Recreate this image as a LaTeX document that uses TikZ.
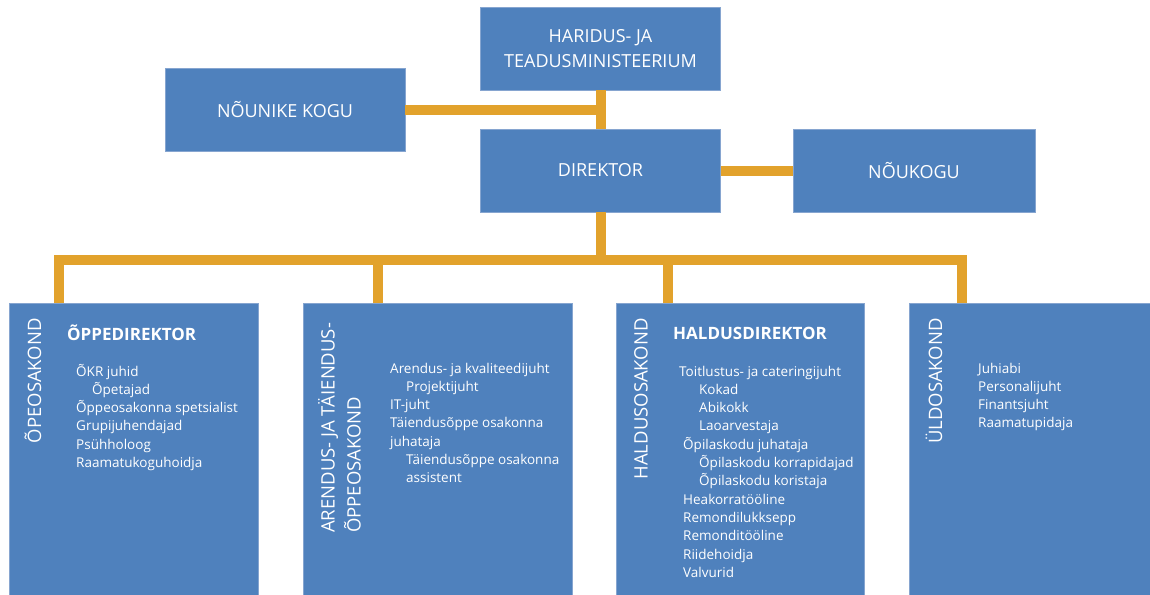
\documentclass[tikz,border=0pt]{standalone}
\usepackage{fontspec}
\setmainfont{Open Sans}
\definecolor{boxblue}{HTML}{4F81BD}
\definecolor{boxedge}{HTML}{86A5D0}
\definecolor{linkor}{HTML}{E2A22C}
\begin{document}
\begin{tikzpicture}[x=1pt,y=-1pt,
  box/.style={fill=boxblue, draw=boxedge, line width=0.6pt},
  topbox/.style={box, minimum width=240pt, minimum height=83pt, inner sep=0pt, text=white,
    font=\fontsize{18}{24.3}\selectfont, align=center},
  deptbox/.style={box, anchor=north west, inner sep=0pt, minimum height=300pt},
  conn/.style={draw=linkor, line width=10pt, line join=miter},
  vlabel/.style={rotate=90, text=white, font=\fontsize{18.5}{26}\selectfont, inner sep=0pt},
  head/.style={text=white, font=\bfseries\fontsize{17}{20}\selectfont, inner sep=0pt, anchor=base west},
  list/.style={text=white, font=\fontsize{13.5}{18.3}\selectfont, inner sep=0pt, align=left, anchor=base west}]
\useasboundingbox (0,0) rectangle (1150,594);
\clip (0,0) rectangle (1150,594);

% top level
\node[topbox] (htm) at (600.5,48.5) {HARIDUS- JA\\TEADUSMINISTEERIUM};
\node[topbox] (nk) at (285,109.5) {NÕUNIKE KOGU};
\node[topbox] (dir) at (600.5,170.5) {DIREKTOR};
\node[topbox, minimum width=242pt] (nkg) at (914,170.5) {NÕUKOGU};

% departments
\node[deptbox, minimum width=249pt] (d1) at (9,303) {};
\node[deptbox, minimum width=269pt] (d2) at (303,303) {};
\node[deptbox, minimum width=248pt] (d3) at (616,303) {};
\node[deptbox, minimum width=260pt] (d4) at (909,303) {};

% connectors
\coordinate (bus) at (600.5,260);
\coordinate (t1) at (59,303);
\coordinate (t2) at (378,303);
\coordinate (t3) at (668,303);
\coordinate (t4) at (962,303);
\draw[conn] (htm.south) -- (dir.north);
\draw[conn] (nk.east) -- (nk.east -| dir.north);
\draw[conn] (dir.east) -- (nkg.west);
\draw[conn] (dir.south) -- (bus);
\draw[conn] (t1) -- (t1 |- bus) -- (t4 |- bus) -- (t4);
\draw[conn] (t2) -- (t2 |- bus);
\draw[conn] (t3) -- (t3 |- bus);

% vertical labels
\node[vlabel, anchor=east] (l1) at (33,318) {ÕPEOSAKOND};
\node[vlabel, anchor=north west, align=left] (l2) at (318,533) {ARENDUS- JA TÄIENDUS-\\ÕPPEOSAKOND};
\node[vlabel, anchor=east] (l3) at (641,318) {HALDUSOSAKOND};
\node[vlabel, anchor=east] (l4) at (934,318) {ÜLDOSAKOND};

% headings
\node[head] (h1) at (67,340) {ÕPPEDIREKTOR};
\node[head] (h3) at (673,339) {HALDUSDIREKTOR};

% lists (anchored at the baseline of the last line)
\node[list] (s1) at (76,467.5) {ÕKR juhid\\\hspace*{16pt}Õpetajad\\Õppeosakonna spetsialist\\Grupijuhendajad\\Psühholoog\\Raamatukoguhoidja};
\node[list] (s2) at (390,482.8) {Arendus- ja kvaliteedijuht\\\hspace*{16pt}Projektijuht\\IT-juht\\Täiendusõppe osakonna\\juhataja\\\hspace*{16pt}Täiendusõppe osakonna\\\hspace*{16pt}assistent};
\node[list] (s3) at (683,577.3) {\hspace*{-4pt}Toitlustus- ja cateringijuht\\\hspace*{16pt}Kokad\\\hspace*{16pt}Abikokk\\\hspace*{16pt}Laoarvestaja\\Õpilaskodu juhataja\\\hspace*{16pt}Õpilaskodu korrapidajad\\\hspace*{16pt}Õpilaskodu koristaja\\Heakorratööline\\Remondilukksepp\\Remonditööline\\Riidehoidja\\Valvurid};
\node[list] (s4) at (978,427.9) {Juhiabi\\Personalijuht\\Finantsjuht\\Raamatupidaja};
\end{tikzpicture}
\end{document}
